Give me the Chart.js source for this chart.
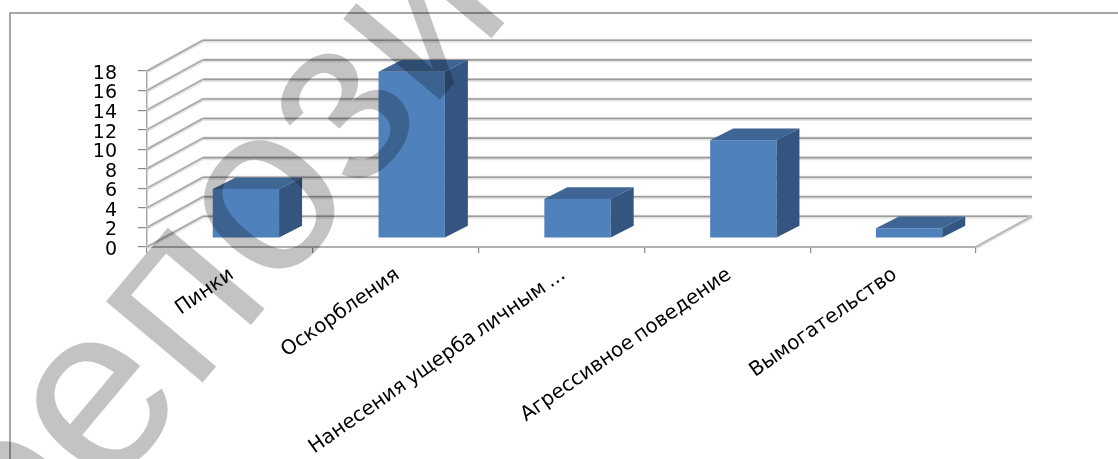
<!DOCTYPE html>
<html lang="ru">
<head>
<meta charset="utf-8">
<style>html,body{margin:0;padding:0;background:#fff}canvas{display:block}</style>
<script src="https://cdn.jsdelivr.net/npm/chart.js@4/dist/chart.umd.min.js"></script>
</head>
<body>
<canvas id="c" width="1118" height="459"></canvas>
<script>
const categories = ["Пинки", "Оскорбления", "Нанесения ущерба личным ...", "Агрессивное поведение", "Вымогательство"];
const values = [5, 17, 4, 10, 1];
const watermarkText = "репозиторий";

const WALL_DX = 56, WALL_DY = 30.7;
const BAR_SHIFT_X = 16, BAR_SHIFT_Y = 9;
const DEPTH_DX = 23, DEPTH_DY = 11.7;

function poly(ctx, pts, fill) {
  ctx.beginPath();
  pts.forEach((p, i) => i ? ctx.lineTo(p[0], p[1]) : ctx.moveTo(p[0], p[1]));
  ctx.closePath();
  ctx.fillStyle = fill;
  ctx.fill();
}
function softLine(ctx, x1, y1, x2, y2, main) {
  ctx.lineCap = "butt";
  ctx.strokeStyle = "#e4e4e4"; ctx.lineWidth = 4;
  ctx.beginPath(); ctx.moveTo(x1, y1 + 0.5); ctx.lineTo(x2, y2 + 0.5); ctx.stroke();
  ctx.strokeStyle = main; ctx.lineWidth = 1.6;
  ctx.beginPath(); ctx.moveTo(x1, y1); ctx.lineTo(x2, y2); ctx.stroke();
}

const scene3d = {
  id: "scene3d",
  beforeDraw(chart) {
    const ctx = chart.ctx;
    ctx.wordSpacing = "-2px";
    ctx.save();
    ctx.strokeStyle = "#8a8a8a"; ctx.lineWidth = 1.5;
    ctx.beginPath();
    ctx.moveTo(10, 459); ctx.lineTo(10, 13); ctx.lineTo(1118, 13);
    ctx.stroke();
    ctx.restore();
  },
  beforeDatasetsDraw(chart) {
    const ctx = chart.ctx, a = chart.chartArea, y = chart.scales.y;
    ctx.save();
    y.ticks.forEach(t => {
      const py = y.getPixelForValue(t.value);
      const by = py - WALL_DY;
      softLine(ctx, a.left, py, a.left + WALL_DX, by, "#a8a8a8");
      softLine(ctx, a.left + WALL_DX, by, a.right + WALL_DX, by, "#9c9c9c");
    });
    softLine(ctx, a.right, a.bottom, a.right + WALL_DX, a.bottom - WALL_DY, "#b4b4b4");
    ctx.restore();
    ctx.save();
    ctx.translate(BAR_SHIFT_X, -BAR_SHIFT_Y);
  },
  afterDatasetsDraw(chart) {
    const ctx = chart.ctx;
    chart.getDatasetMeta(0).data.forEach(bar => {
      const l = bar.x - bar.width / 2, r = bar.x + bar.width / 2, t = bar.y, b = bar.base;
      poly(ctx, [[l, t], [r, t], [r + DEPTH_DX, t - DEPTH_DY], [l + DEPTH_DX, t - DEPTH_DY]], "#3e6593");
      poly(ctx, [[r, t], [r + DEPTH_DX, t - DEPTH_DY], [r + DEPTH_DX, b - DEPTH_DY], [r, b]], "#335580");
    });
    ctx.restore();
  },
  afterDraw(chart) {
    const ctx = chart.ctx;
    ctx.save();
    ctx.translate(21, 599);
    ctx.rotate(-50 * Math.PI / 180);
    ctx.font = "239px 'Liberation Sans'";
    ctx.textAlign = "left";
    ctx.textBaseline = "alphabetic";
    ctx.fillStyle = "rgba(0,0,0,0.235)";
    ctx.fillText(watermarkText, 0, 0);
    ctx.restore();
  }
};

new Chart(document.getElementById("c"), {
  type: "bar",
  data: {
    labels: categories,
    datasets: [{
      data: values,
      backgroundColor: "#4f81bd",
      borderWidth: 0,
      barPercentage: 0.4,
      categoryPercentage: 1,
      clip: false
    }]
  },
  plugins: [scene3d],
  options: {
    responsive: false,
    animation: false,
    devicePixelRatio: 1,
    layout: { padding: { left: 0, top: 71, right: 142, bottom: 0 }, autoPadding: false },
    plugins: { legend: { display: false }, title: { display: false }, tooltip: { enabled: false } },
    scales: {
      x: {
        type: "category",
        grid: { drawOnChartArea: false, drawTicks: true, tickLength: 6, color: "#8a8a8a", lineWidth: 1.2 },
        border: { display: true, color: "#b0b0b0", width: 2 },
        ticks: {
          autoSkip: false, minRotation: 35, maxRotation: 35, padding: 10, labelOffset: 2,
          color: "#000", font: { family: "'DejaVu Sans'", size: 20 }
        },
        afterFit(s) { s.height = 212; s.paddingLeft = 0; s.paddingRight = 0; }
      },
      y: {
        type: "linear", min: 0, max: 18,
        grid: { drawOnChartArea: false, drawTicks: true, tickLength: 9, color: "#8a8a8a", lineWidth: 1.2 },
        border: { display: true, color: "#a8a8a8", width: 1.5 },
        ticks: {
          stepSize: 2, autoSkip: false, padding: 21, labelOffset: 3, color: "#000",
          font: { family: "'DejaVu Sans'", size: 19, lineHeight: 1 }
        },
        afterFit(s) { s.width = 147; s.paddingTop = 0; s.paddingBottom = 0; }
      }
    }
  }
});
</script>
</body>
</html>
